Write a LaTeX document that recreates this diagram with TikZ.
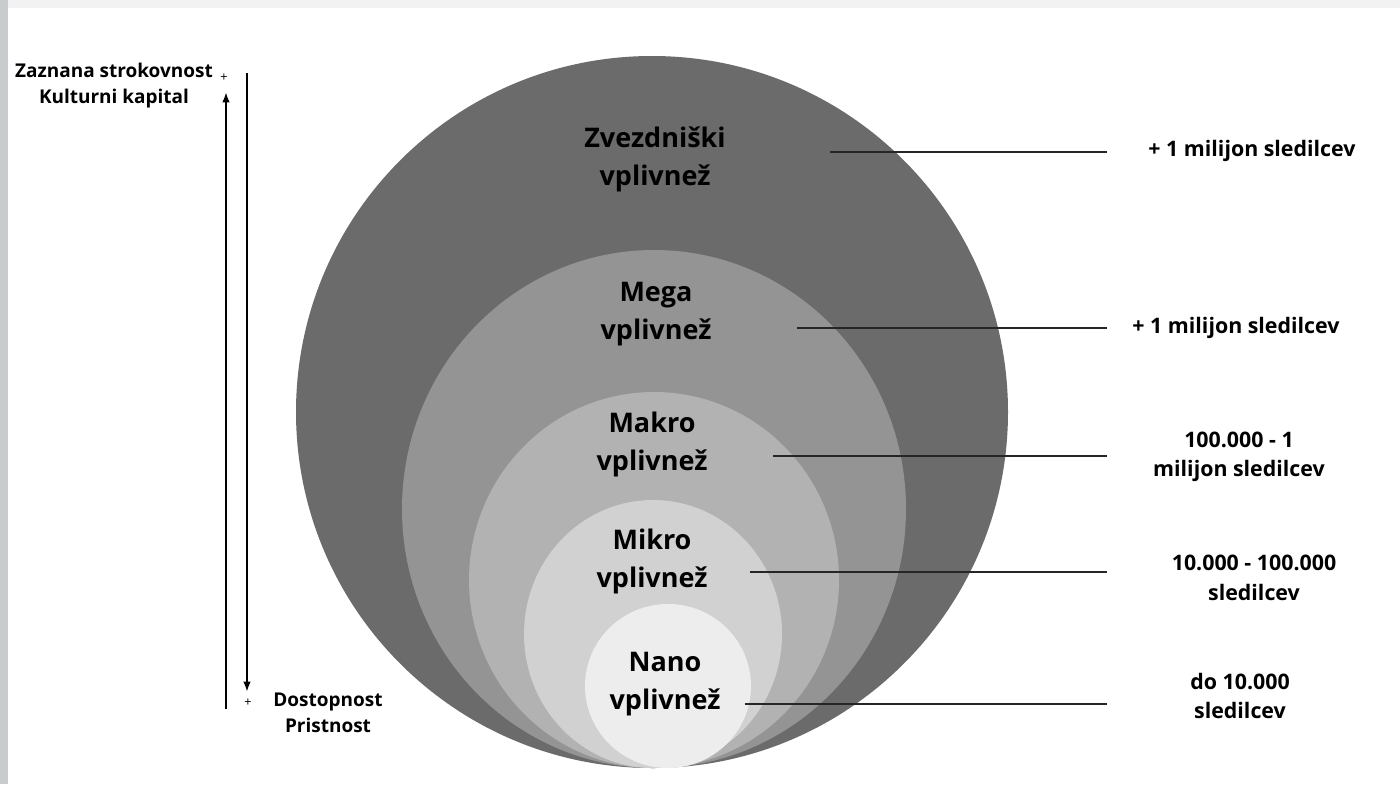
\documentclass[tikz,border=0pt]{standalone}
\usepackage{fontspec}
\setmainfont{Open Sans}
\usetikzlibrary{arrows.meta,calc}
\definecolor{zvgray}{gray}{0.42}
\definecolor{megagray}{gray}{0.58}
\definecolor{makrogray}{gray}{0.70}
\definecolor{mikrogray}{gray}{0.82}
\definecolor{nanogray}{gray}{0.93}
\definecolor{framegray}{HTML}{C8CCCC}
\definecolor{toptint}{HTML}{F2F2F2}
\tikzset{
    ring label/.style={font=\fontsize{19.2}{27}\selectfont\bfseries, align=center, inner sep=0pt},
    side label/.style={font=\fontsize{15.2}{21}\selectfont\bfseries, align=center, inner sep=0pt},
    axis label/.style={font=\fontsize{13.5}{18.5}\selectfont\bfseries, align=center, inner sep=0pt},
    leader/.style={line width=1.4pt, black!85},
    scale arrow/.style={line width=1.4pt, -{Latex[length=2.6mm,width=1.9mm]}}}

\begin{document}
\begin{tikzpicture}[x=0.025cm,y=-0.025cm]
\useasboundingbox (0,0) rectangle (1400,784);
\fill[white] (0,0) rectangle (1400,784);
\fill[toptint] (0,0) rectangle (1400,8);
\fill[framegray] (0,0) rectangle (8,784);

% nested circles, all touching at the bottom
\fill[zvgray]    (652,412) ellipse (356 and 356);
\fill[megagray]  (654,509) ellipse (252 and 259);
\fill[makrogray] (654,580) ellipse (185 and 188);
\fill[mikrogray] (653,634) ellipse (129 and 134);
\fill[nanogray]  (668,686) ellipse (83 and 82);

% circle labels
\node[ring label] (zv)    at (655,159) {Zvezdniški\\vplivnež};
\node[ring label] (mega)  at (656,314) {Mega\\vplivnež};
\node[ring label] (makro) at (652,444) {Makro\\vplivnež};
\node[ring label] (mikro) at (652,561) {Mikro\\vplivnež};
\node[ring label] (nano)  at (665,684) {Nano\\vplivnež};

% follower counts
\node[side label] (zvR)    at (1252,151) {+ 1 milijon sledilcev};
\node[side label] (megaR)  at (1236,328) {+ 1 milijon sledilcev};
\node[side label] (makroR) at (1239,457) {100.000 - 1\\milijon sledilcev};
\node[side label] (mikroR) at (1254,578) {10.000 - 100.000\\sledilcev};
\node[side label] (nanoR)  at (1240,696) {do 10.000\\sledilcev};

\coordinate (zvA)    at (830,152);
\coordinate (zvB)    at (1107,152);
\coordinate (megaA)  at (797,328);
\coordinate (megaB)  at (1107,328);
\coordinate (makroA) at (773,456);
\coordinate (makroB) at (1107,456);
\coordinate (mikroA) at (750,572);
\coordinate (mikroB) at (1107,572);
\coordinate (nanoA)  at (745,704);
\coordinate (nanoB)  at (1107,704);
\draw[leader] (zvA) -- (zvB);
\draw[leader] (megaA) -- (megaB);
\draw[leader] (makroA) -- (makroB);
\draw[leader] (mikroA) -- (mikroB);
\draw[leader] (nanoA) -- (nanoB);

% scale on the left
\node[axis label] (top)  at (114,86) {Zaznana strokovnost\\Kulturni kapital};
\node[axis label] (bot)  at (328,713) {Dostopnost\\Pristnost};
\node[inner sep=0pt, font=\small] (plusT) at (224,78) {+};
\node[inner sep=0pt, font=\small] (plusB) at (248,703) {+};
\coordinate (upA) at (226,709);
\coordinate (upB) at (226,92);
\coordinate (dnA) at (247,73);
\coordinate (dnB) at (247,692);
\draw[scale arrow] (upA) -- (upB);
\draw[scale arrow] (dnA) -- (dnB);
\end{tikzpicture}
\end{document}
